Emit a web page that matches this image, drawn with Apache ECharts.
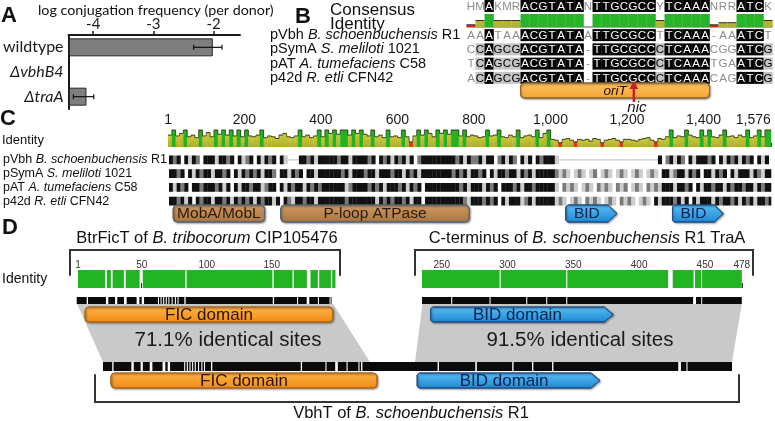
<!DOCTYPE html>
<html><head><meta charset="utf-8">
<script src="https://cdn.jsdelivr.net/npm/echarts@6/dist/echarts.min.js"></script>
<style>html,body{margin:0;padding:0;background:#fff}#c{width:775px;height:421px}</style>
</head><body><div id="c"></div>
<script>
// ================= DATA =================
// Panel A
const strainNames = ['wildtype', 'ΔvbhB4', 'ΔtraA'];
const logConjFreq = [-2.02, null, -4.12];
const logConjLow = [-2.33, null, -4.33];
const logConjHigh = [-1.86, null, -3.99];
const freqTicks = [-4, -3, -2];
const freqAxisMin = -4.41, freqAxisMax = -1.56;

// Panel B
const consensusSeq = 'HMAKMRACGTATANTTGCGCCYTCAAANRRATCK';
const oriTIdentity = [17,50,100,50,50,50,100,100,100,100,100,100,100,0,100,100,100,100,100,100,100,50,100,100,100,100,100,17,33,33,100,100,100,50];
const plasmids = ['pVbh', 'pSymA', 'pAT', 'p42d'];
const speciesNames = ['B. schoenbuchensis', 'S. meliloti', 'A. tumefaciens', 'R. etli'];
const strainIds = ['R1', '1021', 'C58', 'CFN42'];
const oriTSeqs = [
  'AAATAAACGTATAATTGCGCCTTCAAA-AAATCT',
  'CCAGCGACGTATA-TTGCGCCCTCAAACGGATCG',
  'TCAGCGACGTATA-TTGCGCCCTCAAATGAATCG',
  'ACAGCGACGTATA-TTGCGCCCTCAAACAGATCG'
];
const oriTSpan = [7, 27];
const nicSite = 19.1;

// Panel C (TraA alignment, 10-aa bins)
const traALength = 1576;
const traABin = 10;
const traATicks = [1, 200, 400, 600, 800, 1000, 1200, 1400, 1576];
const identityC = [70,100,65,80,100,60,70,55,100,65, 85,60,100,75,100,70,100,65,100,60,
  100,65,60,70,100,55,65,60,50,70, 80,60,55,65,100,60,70,55,65,100,
  60,100,80,100,75,100,100,70,100,80, 100,75,65,100,60,70,55,100,60,65,
  55,100,60,30,65,100,70,100,80,60, 100,80,100,75,100,100,65,100,60,70,
  65,55,60,100,65,70,100,60,55,70, 60,100,55,65,70,60,100,55,80,100,
  45,40,25,45,50,40,30,45,40,45, 35,50,45,25,40,45,50,40,30,45,
  45,40,35,45,50,55,40,30,50,45, 60,100,55,65,60,100,70,60,55,100,
  65,100,60,55,70,100,60,65,55,70, 60,100,55,65,100,60,100,100];
const shadePVbh = ['3230313203','3313323031','2303132303','1---332313','3333233133','3323032313','2313023333','3333323132',
  '2313302313','2031303233','31--------','----------','--------30','2313203133','3230313231','32303130'].join('');
const shadePSymA = ['3323031323','3133230313','2323133203','3132303313','3333323133','3233133323','3132313333','3333232313',
  '3230313323','3132313333','3212101210','1201210121','0121012103','3123313230','3313230313','33132133'].join('');
const shadePAT = ['3132303323','3323130313','3233123303','1323313232','3333331233','3323231333','2313230333','3333332313',
  '3313230333','2313323333','3102121012','1021210212','0121021213','3313323031','3323313233','23313233'].join('');
const shadeP42d = ['3323130323','3133231323','2313233130','3213323313','3333332333','3333132323','3231330333','3333333213',
  '3323230313','3312313333','3121012102','1210121021','2101210313','3323130313','3313233231','32313323'].join('');
const traADomains = [[14, 253, 'MobA/MobL', 'brown'], [295, 788, 'P-loop ATPase', 'brown'],
  [1040, 1174, 'BID', 'blue'], [1319, 1452, 'BID', 'blue']];

// Panel D
const btrTicks = [1, 50, 100, 150];
const traCTicks = [250, 300, 350, 400, 450, 478];
const btrIdentitySegs = [[1,21.8],[23.2,26.3],[27.6,36.3],[37.7,48.4],[50.8,83.5],[84.5,150.5],[151.5,166],[167,177],[179.8,185.5],[186.5,195.5],[196.5,199]];
const btrAlignSegs = [[0,7.7],[8.7,22.5],[24.3,29.5],[31.2,36.4],[38.4,46.1],[48.2,50],[51.8,62.5],[63.3,64.5],[65.3,66.5],[67.3,68.5],[69.3,70.5],[71.3,73],[73.8,75.5],[76.3,77.5],[78.3,82.8],[83.8,150.8],[151.8,169.5],[170.3,176.9],[178.9,185.5],[186.3,194.5],[195.3,196]];
const traIdentitySegs = [[235,294],[294.8,344.6],[345.4,422],[425.5,441.4],[442.4,447.2],[447.8,478]];
const traAlignSegs = [[235,257.2],[258,286.3],[287.1,314.2],[315,329.4],[330.2,344.6],[345.4,441],[443.2,447.2],[447.9,478]];
const vbhtAlignSegs = [[1,8],[9,22.5],[24.3,29.5],[31.2,36.4],[38.4,46.1],[48.2,50],[51.8,62.5],[63.3,64.5],[65.3,66.5],[67.3,68.5],[69.3,70.5],[71.3,73],[73.8,75.5],[76.3,77.5],[78.3,82.8],[83.8,150.8],[151.8,169.5],[170.3,176.9],[178.9,185.5],[186.3,194.5],[195.3,196.5],[197.5,254.5],[255.5,283],[284.2,311],[312,326],[327,341.2],[342.2,436.8],[438.8,443],[443.8,477.5]];
const btrDomains = [[6.4, 197, 'FIC domain', 'orange']];
const traCDomains = [[241.6, 380.3, 'BID domain', 'bluearrow']];
const vbhtDomains = [[7, 208.6, 'FIC domain', 'orange'], [239, 377.5, 'BID domain', 'bluearrow']];
const ficBlock = {top: [0.3, 197.2], bottom: [1, 203.3], identical: '71.1% identical sites'};
const bidBlock = {top: [235.3, 478], bottom: [237.4, 477.5], identical: '91.5% identical sites'};

// ================= CHART =================
const SANS = 'Liberation Sans', LATO = 'Lato';
const chart = echarts.init(document.getElementById('c'), null, {renderer: 'canvas'});
const grids = [], xAxes = [], yAxes = [], series = [];
function addGrid(g) { grids.push(g); return grids.length - 1; }
function addX(a) { xAxes.push(Object.assign({splitLine: {show: false}}, a)); return xAxes.length - 1; }
function addY(a) { yAxes.push(Object.assign({splitLine: {show: false}}, a)); return yAxes.length - 1; }
function hidden(gridIndex, min, max) { return {gridIndex, type: 'value', min, max, show: false}; }

function grad(c0, c1) { return new echarts.graphic.LinearGradient(0, 0, 0, 1, [{offset: 0, color: c0}, {offset: 1, color: c1}]); }
const domainStyles = {
  brown: {c0: '#d19a62', c1: '#a87440', stroke: '#4f6678', text: '#2a1a0c', arrow: false, size: 15.5},
  blue: {c0: '#5cc0f5', c1: '#1c87d2', stroke: '#1e4f8c', text: '#0b2350', arrow: true, size: 15.5},
  bluearrow: {c0: '#5cc0f5', c1: '#1c87d2', stroke: '#1e4f8c', text: '#0b2350', arrow: true, size: 17},
  orange: {c0: '#fdb54a', c1: '#f28a12', stroke: '#b0661a', text: '#2a1500', arrow: false, size: 17},
  oriT: {c0: '#fcc263', c1: '#f4a533', stroke: '#8f6528', text: '#1a1000', arrow: false, size: 13.5, italic: true}
};
function domainRender(list) {
  return (params, api) => {
    const d = list[params.dataIndex];
    const st = domainStyles[d[3]];
    const p0 = api.coord([d[0], 1]), p1 = api.coord([d[1], 0]);
    const x0 = p0[0], y0 = p0[1], x1 = p1[0], y1 = p1[1];
    const style = {fill: grad(st.c0, st.c1), stroke: st.stroke, lineWidth: 1,
      shadowBlur: 2, shadowColor: 'rgba(0,0,0,0.35)', shadowOffsetX: 1, shadowOffsetY: 1};
    let shape, tip = 0;
    if (st.arrow) {
      tip = Math.min(9, (y1 - y0) * 0.6);
      shape = {type: 'polygon', shape: {points: [[x0 + 2, y0], [x1 - tip, y0], [x1, (y0 + y1) / 2], [x1 - tip, y1], [x0 + 2, y1], [x0, y1 - 2], [x0, y0 + 2]]}, style};
    } else {
      shape = {type: 'rect', shape: {x: x0, y: y0, width: x1 - x0, height: y1 - y0, r: 4}, style};
    }
    const text = {type: 'text', x: (x0 + x1) / 2 - tip / 2, y: (y0 + y1) / 2 + 0.5,
      style: {text: d[2], fill: st.text, fontSize: st.size, fontFamily: SANS, fontStyle: st.italic ? 'italic' : 'normal',
        align: 'center', verticalAlign: 'middle', textAlign: 'center', textVerticalAlign: 'middle'}};
    return {type: 'group', children: [shape, text]};
  };
}
function segRender(color) {
  return (params, api) => {
    const p0 = api.coord([api.value(0), 1]), p1 = api.coord([api.value(1), 0]);
    return {type: 'rect', shape: {x: p0[0], y: p0[1], width: p1[0] - p0[0], height: p1[1] - p0[1]}, style: {fill: color}};
  };
}
function addSegs(xi, yi, segs, color) {
  series.push({type: 'custom', xAxisIndex: xi, yAxisIndex: yi, data: segs.map(s => [s[0], s[1]]), encode: {x: [0, 1]}, renderItem: segRender(color), silent: true});
}
function addDomains(xi, yi, list) {
  series.push({type: 'custom', xAxisIndex: xi, yAxisIndex: yi, data: list.map(d => [d[0], d[1]]), encode: {x: [0, 1]}, renderItem: domainRender(list), silent: true, z: 3});
}

// ---------- Panel A ----------
const gA = addGrid({left: 65, top: 35, width: 175, height: 74});
const xA = addX({gridIndex: gA, type: 'value', position: 'top', min: freqAxisMin, max: freqAxisMax,
  axisLine: {show: true, onZero: false, lineStyle: {color: '#1a1a1a', width: 2}},
  axisTick: {show: true, customValues: freqTicks, length: 4, lineStyle: {color: '#1a1a1a', width: 1.5}},
  axisLabel: {show: true, customValues: freqTicks, fontFamily: LATO, fontSize: 15, color: '#1a1a1a', margin: 3}});
const yA = addY({gridIndex: gA, type: 'category', inverse: true, data: strainNames,
  axisLine: {show: true, onZero: false, lineStyle: {color: '#1a1a1a', width: 2}}, axisTick: {show: false},
  axisLabel: {interval: 0, fontFamily: LATO, fontSize: 16, color: '#1a1a1a', margin: 5,
    formatter: v => v.charAt(0) === 'Δ' ? '{i|' + v + '}' : v,
    rich: {i: {fontStyle: 'italic', fontFamily: LATO, fontSize: 16, color: '#1a1a1a'}}}});
series.push({type: 'custom', xAxisIndex: xA, yAxisIndex: yA, data: strainNames.map((s, i) => [logConjFreq[i], i]), encode: {x: 0, y: 1},
  renderItem: (params, api) => {
    const v = api.value(0), c = api.value(1);
    if (v == null || isNaN(v)) return null;
    const p0 = api.coord([freqAxisMin, c]), p1 = api.coord([v, c]);
    const h = api.size([0, 1])[1] * 0.69;
    return {type: 'rect', shape: {x: p0[0] + 1, y: p0[1] - h / 2, width: p1[0] - p0[0] - 1, height: h}, style: {fill: '#7f7f7f', stroke: '#2a2a2a', lineWidth: 1}};
  }});
series.push({type: 'custom', xAxisIndex: xA, yAxisIndex: yA, data: strainNames.map((s, i) => [logConjLow[i], logConjHigh[i], i]), encode: {x: [0, 1], y: 2}, z: 4,
  renderItem: (params, api) => {
    const lo = api.value(0), hi = api.value(1), c = api.value(2);
    if (lo == null || isNaN(lo)) return null;
    const a = api.coord([lo, c]), b = api.coord([hi, c]);
    const st = {stroke: '#111', lineWidth: 1.2};
    return {type: 'group', children: [
      {type: 'line', shape: {x1: a[0], y1: a[1], x2: b[0], y2: b[1]}, style: st},
      {type: 'line', shape: {x1: a[0], y1: a[1] - 2.5, x2: a[0], y2: a[1] + 2.5}, style: st},
      {type: 'line', shape: {x1: b[0], y1: b[1] - 2.5, x2: b[0], y2: b[1] + 2.5}, style: st}]};
  }});

// ---------- Panel B ----------
const colLeft = 466.5, colWidth = 306;
const gBc = addGrid({left: colLeft, top: 0, width: colWidth, height: 12});
const xBc = addX(hidden(gBc, 0.5, 34.5)); const yBc = addY(hidden(gBc, 0, 1));
series.push({type: 'custom', xAxisIndex: xBc, yAxisIndex: yBc, data: consensusSeq.split('').map((c, i) => [i + 1, 0.5]), encode: {x: 0, y: 1},
  renderItem: (params, api) => {
    const i = params.dataIndex, ch = consensusSeq[i];
    const p = api.coord([i + 1, 0.5]); const w = api.size([1, 1]);
    const full = oriTIdentity[i] === 100;
    const kids = [];
    if (full) kids.push({type: 'rect', shape: {x: p[0] - w[0] / 2, y: p[1] - w[1] / 2, width: w[0] + 0.3, height: w[1]}, style: {fill: '#000'}});
    kids.push({type: 'text', x: p[0], y: p[1] + 0.5, style: {text: ch, fill: full ? '#fff' : '#8c8c8c', fontSize: 11.5, fontFamily: SANS, align: 'center', verticalAlign: 'middle'}});
    return {type: 'group', children: kids};
  }});
const gBi = addGrid({left: colLeft, top: 14, width: colWidth, height: 13});
const xBi = addX(hidden(gBi, 0.5, 34.5)); const yBi = addY(hidden(gBi, 0, 100));
series.push({type: 'custom', xAxisIndex: xBi, yAxisIndex: yBi, data: oriTIdentity.map((v, i) => [i + 1, v]), encode: {x: 0, y: 1},
  renderItem: (params, api) => {
    const c = api.value(0), v = api.value(1);
    const p0 = api.coord([c - 0.5, 0]), p1 = api.coord([c + 0.5, v]);
    const col = v >= 90 ? '#27b427' : (v < 30 ? '#d8261c' : '#b5b42c');
    const kids = [{type: 'line', shape: {x1: p0[0], y1: p0[1], x2: p1[0], y2: p0[1]}, style: {stroke: '#555', lineWidth: 1}}];
    if (v > 0) {
      kids.push({type: 'rect', shape: {x: p0[0], y: p1[1], width: p1[0] - p0[0] + 0.3, height: p0[1] - p1[1]}, style: {fill: col}});
      if (v < 90) kids.push({type: 'line', shape: {x1: p0[0], y1: p1[1], x2: p1[0], y2: p1[1]}, style: {stroke: '#333', lineWidth: 1}});
    }
    return {type: 'group', children: kids};
  }});
const gBr = addGrid({left: colLeft, top: 28, width: colWidth, height: 57});
const xBr = addX(hidden(gBr, 0.5, 34.5));
const yBr = addY({gridIndex: gBr, type: 'category', inverse: true, data: plasmids,
  axisLine: {show: false}, axisTick: {show: false},
  axisLabel: {interval: 0, hideOverlap: false, align: 'left', margin: colLeft - 270, fontFamily: SANS, fontSize: 14.5, color: '#111',
    formatter: (v, i) => '{n|' + v + ' }{i|' + speciesNames[i] + '}{n| ' + strainIds[i] + '}',
    rich: {n: {fontFamily: SANS, fontSize: 14.5, color: '#111'}, i: {fontFamily: SANS, fontSize: 14.5, color: '#111', fontStyle: 'italic'}}}});
const cellData = [];
oriTSeqs.forEach((s, r) => s.split('').forEach((ch, c) => cellData.push([c + 1, r, ch])));
series.push({type: 'custom', xAxisIndex: xBr, yAxisIndex: yBr, data: cellData.map(d => [d[0], d[1]]), encode: {x: 0, y: 1},
  renderItem: (params, api) => {
    const d = cellData[params.dataIndex];
    const ch = d[2], col = d[0] - 1;
    const same = oriTSeqs.filter(s => s[col] === ch).length;
    const shade = ch === '-' ? 'none' : (same === 4 ? 'black' : (same === 3 ? 'gray' : 'none'));
    const p = api.coord([d[0], d[1]]); const cw = api.size([1, 0])[0]; const ch2 = 12;
    const kids = [];
    if (shade !== 'none') kids.push({type: 'rect', shape: {x: p[0] - cw / 2, y: p[1] - ch2 / 2, width: cw + 0.3, height: ch2}, style: {fill: shade === 'black' ? '#000' : '#c4c4c4'}});
    kids.push({type: 'text', x: p[0], y: p[1] + 0.5, style: {text: ch, fill: shade === 'black' ? '#fff' : (shade === 'gray' ? '#000' : '#8c8c8c'), fontSize: 11.5, fontFamily: SANS, align: 'center', verticalAlign: 'middle'}});
    return {type: 'group', children: kids};
  }});
const gBo = addGrid({left: colLeft, top: 83, width: colWidth, height: 15});
const xBo = addX(hidden(gBo, 0.5, 34.5)); const yBo = addY(hidden(gBo, 0, 1));
addDomains(xBo, yBo, [[oriTSpan[0] - 0.5, oriTSpan[1] + 0.5, 'oriT', 'oriT']]);
series.push({type: 'custom', xAxisIndex: xBo, yAxisIndex: yBo, data: [[nicSite, 0]], encode: {x: 0, y: 1}, z: 5,
  renderItem: (params, api) => {
    const x = api.coord([api.value(0), 0])[0];
    const top = api.coord([0, 1])[1], bot = api.coord([0, 0])[1];
    const red = '#c8202a';
    return {type: 'group', children: [
      {type: 'line', shape: {x1: x, y1: bot + 4, x2: x, y2: top + 4}, style: {stroke: red, lineWidth: 2.5}},
      {type: 'polygon', shape: {points: [[x, top - 2], [x - 4.5, top + 6], [x + 4.5, top + 6]]}, style: {fill: red}},
      {type: 'text', x: x + 3, y: bot + 10, style: {text: 'nic', fill: '#111', fontSize: 15, fontStyle: 'italic', fontFamily: SANS, align: 'center', verticalAlign: 'middle'}}]};
  }});

// ---------- Panel C ----------
const cLeft = 168, cWidth = 603;
const gCi = addGrid({left: cLeft, top: 130, width: cWidth, height: 17});
const xCi = addX({gridIndex: gCi, type: 'value', position: 'top', min: 0.5, max: traALength + 0.5,
  axisLine: {show: false}, axisTick: {show: true, customValues: traATicks, length: 4, lineStyle: {color: '#333', width: 1}},
  axisLabel: {show: true, customValues: traATicks, margin: 3, fontFamily: SANS, fontSize: 14, color: '#1a1a1a', alignMaxLabel: 'right',
    formatter: v => Number(v).toLocaleString('en-US')}});
const yCi = addY(hidden(gCi, 0, 100));
const binData = identityC.map((v, i) => [i * traABin + 0.5, Math.min((i + 1) * traABin + 0.5, traALength + 0.5), v, i > 0 ? identityC[i - 1] : v]);
series.push({type: 'custom', xAxisIndex: xCi, yAxisIndex: yCi, data: binData, encode: {x: [0, 1], y: 2},
  renderItem: (params, api) => {
    const s = api.value(0), e = api.value(1), v = api.value(2), pv = api.value(3);
    const p0 = api.coord([s, 0]), p1 = api.coord([e, v]), pp = api.coord([s, pv]);
    const col = v >= 90 ? '#22b322' : (v < 32 ? '#e2341e' : grad('#c9c93c', '#b0ae24'));
    return {type: 'group', children: [
      {type: 'rect', shape: {x: p0[0], y: p1[1], width: p1[0] - p0[0] + 0.3, height: p0[1] - p1[1]}, style: {fill: col}},
      {type: 'line', shape: {x1: p0[0], y1: p1[1], x2: p1[0], y2: p1[1]}, style: {stroke: '#2b2b12', lineWidth: 0.9}},
      {type: 'line', shape: {x1: p0[0], y1: pp[1], x2: p0[0], y2: p1[1]}, style: {stroke: '#2b2b12', lineWidth: 0.7}}]};
  }});
const gCr = addGrid({left: cLeft, top: 153, width: cWidth, height: 55});
const xCr = addX(hidden(gCr, 0.5, traALength + 0.5));
const yCr = addY({gridIndex: gCr, type: 'category', inverse: true, data: plasmids,
  axisLine: {show: false}, axisTick: {show: false},
  axisLabel: {interval: 0, hideOverlap: false, align: 'left', margin: cLeft - 2, fontFamily: SANS, fontSize: 12.5, color: '#111',
    formatter: (v, i) => '{n|' + v + ' }{i|' + speciesNames[i] + '}{n| ' + strainIds[i] + '}',
    rich: {n: {fontFamily: SANS, fontSize: 12.5, color: '#111'}, i: {fontFamily: SANS, fontSize: 12.5, color: '#111', fontStyle: 'italic'}}}});
const shadeRows = [shadePVbh, shadePSymA, shadePAT, shadeP42d];
const stripeData = [];
shadeRows.forEach((row, r) => row.split('').forEach((ch, i) => stripeData.push([i * traABin + 0.5, Math.min((i + 1) * traABin + 0.5, traALength + 0.5), r, ch === '-' ? -1 : Number(ch)])));
const shadeColors = ['#ffffff', '#cdcdcd', '#7a7a7a', '#111111'];
series.push({type: 'custom', xAxisIndex: xCr, yAxisIndex: yCr, data: stripeData, encode: {x: [0, 1], y: 2},
  renderItem: (params, api) => {
    const s = api.value(0), e = api.value(1), r = api.value(2), lv = api.value(3);
    const p0 = api.coord([s, r]), p1 = api.coord([e, r]);
    const h = api.size([0, 1])[1] * 0.64;
    if (lv < 0) return {type: 'rect', shape: {x: p0[0], y: p0[1] - 0.5, width: p1[0] - p0[0] + 0.3, height: 1}, style: {fill: '#bdbdbd'}};
    if (lv === 0) return null;
    return {type: 'rect', shape: {x: p0[0], y: p0[1] - h / 2, width: p1[0] - p0[0] + 0.3, height: h}, style: {fill: shadeColors[lv]}};
  }});
const gCd = addGrid({left: cLeft, top: 205, width: cWidth, height: 17});
const xCd = addX(hidden(gCd, 0.5, traALength + 0.5)); const yCd = addY(hidden(gCd, 0, 1));
addDomains(xCd, yCd, traADomains);

// ---------- Panel D ----------
const bracketLine = {show: true, onZero: false, lineStyle: {color: '#333', width: 2}};
function bracketGrid(left, top, width, height, min, max, pos) {
  const g = addGrid({left, top, width, height});
  const x = addX({gridIndex: g, type: 'value', min, max, position: pos, axisLine: bracketLine, axisTick: {show: false}, axisLabel: {show: false}});
  addY({gridIndex: g, type: 'value', min: 0, max: 1, position: 'left', axisLine: bracketLine, axisTick: {show: false}, axisLabel: {show: false}});
  addY({gridIndex: g, type: 'value', min: 0, max: 1, position: 'right', axisLine: bracketLine, axisTick: {show: false}, axisLabel: {show: false}});
  return x;
}
function tickAxis(g, min, max, ticks) {
  return addX({gridIndex: g, type: 'value', position: 'top', min, max, axisLine: {show: false},
    axisTick: {show: true, customValues: ticks, length: 5, lineStyle: {color: '#333', width: 1}},
    axisLabel: {show: true, customValues: ticks, margin: 0, fontFamily: SANS, fontSize: 10, color: '#333'}});
}
// left top (BtrFicT)
const dlMin = -5.15, dlMax = 202.5;
bracketGrid(70, 250, 270, 25, dlMin, dlMax, 'top');
const gDLi = addGrid({left: 70, top: 270, width: 270, height: 18});
const xDLi = tickAxis(gDLi, dlMin, dlMax, btrTicks); const yDLi = addY(hidden(gDLi, 0, 1));
addSegs(xDLi, yDLi, btrIdentitySegs, '#22b422');
const gDLa = addGrid({left: 70, top: 297, width: 270, height: 7});
const xDLa = addX(hidden(gDLa, dlMin, dlMax)); const yDLa = addY(hidden(gDLa, 0, 1));
addSegs(xDLa, yDLa, btrAlignSegs, '#0a0a0a');
const gDLd = addGrid({left: 70, top: 307, width: 270, height: 15});
const xDLd = addX(hidden(gDLd, dlMin, dlMax)); const yDLd = addY(hidden(gDLd, 0, 1));
addDomains(xDLd, yDLd, btrDomains);
// right top (TraA C-terminus)
const drMin = 229.7, drMax = 486.5;
bracketGrid(415, 250, 338, 25, drMin, drMax, 'top');
const gDRi = addGrid({left: 415, top: 270, width: 338, height: 18});
const xDRi = tickAxis(gDRi, drMin, drMax, traCTicks); const yDRi = addY(hidden(gDRi, 0, 1));
addSegs(xDRi, yDRi, traIdentitySegs, '#22b422');
const gDRa = addGrid({left: 415, top: 297, width: 338, height: 7});
const xDRa = addX(hidden(gDRa, drMin, drMax)); const yDRa = addY(hidden(gDRa, 0, 1));
addSegs(xDRa, yDRa, traAlignSegs, '#0a0a0a');
const gDRd = addGrid({left: 415, top: 307, width: 338, height: 15});
const xDRd = addX(hidden(gDRd, drMin, drMax)); const yDRd = addY(hidden(gDRd, 0, 1));
addDomains(xDRd, yDRd, traCDomains);
// bottom (VbhT)
const dbMin = -5.06, dbMax = 482.8;
const gDBa = addGrid({left: 95, top: 362, width: 644, height: 9});
const xDBa = addX(hidden(gDBa, dbMin, dbMax)); const yDBa = addY(hidden(gDBa, 0, 1));
addSegs(xDBa, yDBa, vbhtAlignSegs, '#0a0a0a');
const gDBd = addGrid({left: 95, top: 373, width: 644, height: 15});
const xDBd = addX(hidden(gDBd, dbMin, dbMax)); const yDBd = addY(hidden(gDBd, 0, 1));
addDomains(xDBd, yDBd, vbhtDomains);
bracketGrid(95, 375, 644, 27, dbMin, dbMax, 'bottom');

chart.setOption({
  animation: false,
  textStyle: {fontFamily: SANS},
  grid: grids, xAxis: xAxes, yAxis: yAxes, series
});

// ---------- text + alignment blocks ----------
function txt(x, y, text, size, opts) {
  opts = opts || {};
  return {type: 'text', x, y, z: 100, style: Object.assign({text, fontSize: size, fontFamily: opts.family || SANS, fontWeight: opts.weight || 'normal',
    fill: opts.fill || '#111', align: opts.align || 'left', verticalAlign: 'middle', textAlign: opts.align || 'left', textVerticalAlign: 'middle'},
    opts.rich ? {rich: opts.rich} : {})};
}
const itRich = size => ({n: {fontSize: size, fontFamily: SANS, fill: '#111', color: '#111'}, i: {fontSize: size, fontFamily: SANS, fontStyle: 'italic', fill: '#111', color: '#111'}});
function block(b, xTop, yTop, xBot, yBot) {
  const a = chart.convertToPixel({xAxisIndex: xTop, yAxisIndex: yTop}, [b.top[0], 0]);
  const c = chart.convertToPixel({xAxisIndex: xTop, yAxisIndex: yTop}, [b.top[1], 0]);
  const d = chart.convertToPixel({xAxisIndex: xBot, yAxisIndex: yBot}, [b.bottom[1], 1]);
  const e = chart.convertToPixel({xAxisIndex: xBot, yAxisIndex: yBot}, [b.bottom[0], 1]);
  return {type: 'polygon', z: 0, shape: {points: [a, c, d, e]}, style: {fill: '#c9c9c9'}};
}
chart.setOption({graphic: [
  block(ficBlock, xDLa, yDLa, xDBa, yDBa),
  block(bidBlock, xDRa, yDRa, xDBa, yDBa),
  txt(1, 16, 'A', 22, {weight: 'bold'}),
  txt(295, 16.5, 'B', 22, {weight: 'bold'}),
  txt(0, 119, 'C', 22, {weight: 'bold'}),
  txt(2, 228, 'D', 22, {weight: 'bold'}),
  txt(38, 10, 'log conjugation frequency (per donor)', 14.3, {family: LATO}),
  txt(330, 10, 'Consensus', 17),
  txt(330, 24, 'Identity', 17),
  txt(2, 140, 'Identity', 13),
  txt(2, 279, 'Identity', 14),
  txt(207, 238, '{n|BtrFicT of }{i|B. tribocorum}{n| CIP105476}', 16.5, {align: 'center', rich: itRich(16.5)}),
  txt(587, 238, '{n|C-terminus of }{i|B. schoenbuchensis}{n| R1 TraA}', 16.5, {align: 'center', rich: itRich(16.5)}),
  txt(228, 340, ficBlock.identical, 20.5, {align: 'center', fill: '#1a1a1a'}),
  txt(580, 340, bidBlock.identical, 20.5, {align: 'center', fill: '#1a1a1a'}),
  txt(411, 413, '{n|VbhT of }{i|B. schoenbuchensis}{n| R1}', 16.5, {align: 'center', rich: itRich(16.5)})
]});
</script>
</body></html>
